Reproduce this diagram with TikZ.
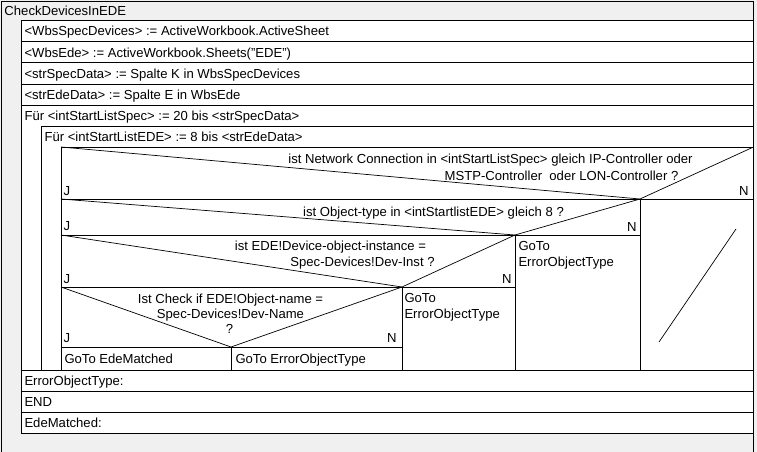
\documentclass[tikz,border=0pt]{standalone}
\usepackage{fontspec}
\setmainfont{Liberation Sans}
\definecolor{bgray}{HTML}{F0F0F0}
\begin{document}
\begin{tikzpicture}[x=1pt,y=-1pt,line width=1pt,
  txt/.style={font=\fontsize{13.1}{15}\selectfont,inner sep=0pt,anchor=base west},
  ctxt/.style={txt,anchor=base},
  rtxt/.style={txt,anchor=base east},
  diag/.style={line width=0.7pt}]
\useasboundingbox (0,0) rectangle (757,452);
\fill[bgray] (0,0) rectangle (757,452);
% outer frame
\draw (1.5,452) -- (1.5,1.5) -- (753.5,1.5) -- (753.5,452);
% inner block
\draw[fill=white] (21,21) rectangle (753.5,433);
\foreach \yy in {42,63,84,105,370,391,412}
  \draw (21,\yy) -- (753.5,\yy);
\draw (41,126) -- (753.5,126);
\draw (41,126) -- (41,370);
\draw (61,147) -- (753.5,147);
\draw (61,147) -- (61,370);
% decision 1
\draw[diag] (61,147) -- (640,199) -- (753.5,147);
\draw (61,199) -- (753.5,199);
\draw (640,199) -- (640,370);
\draw[diag] (736,229) -- (659,342);
% decision 2
\draw[diag] (61,199) -- (515,235) -- (640,199);
\draw (61,235) -- (640,235);
\draw (515,235) -- (515,370);
% decision 3
\draw[diag] (61,235) -- (402,287) -- (515,235);
\draw (61,287) -- (515,287);
\draw (402,287) -- (402,370);
% decision 4
\draw[diag] (61,287) -- (231,347) -- (402,287);
\draw (61,347) -- (402,347);
\draw (231,347) -- (231,370);
% texts
\node[txt] (title) at (4,16) {CheckDevicesInEDE};
\node[txt] (r1) at (24,36) {<WbsSpecDevices> := ActiveWorkbook.ActiveSheet};
\node[txt] (r2) at (24,57) {<WbsEde> := ActiveWorkbook.Sheets("EDE")};
\node[txt] (r3) at (24,78) {<strSpecData> := Spalte K in WbsSpecDevices};
\node[txt] (r4) at (24,99) {<strEdeData> := Spalte E in WbsEde};
\node[txt] (r5) at (24,120) {Für <intStartListSpec> := 20 bis <strSpecData>};
\node[txt] (r6) at (44,141) {Für <intStartListEDE> := 8 bis <strEdeData>};
\node[ctxt] (d1a) at (490.5,163) {ist Network Connection in <intStartListSpec> gleich IP-Controller oder};
\node[ctxt] (d1b) at (561.5,180) {MSTP-Controller\ \ oder LON-Controller ?};
\node[txt] (d1j) at (63,195) {J};
\node[rtxt] (d1n) at (749,195) {N};
\node[ctxt] (d2a) at (433.5,216) {ist Object-type in <intStartlistEDE> gleich 8 ?};
\node[txt] (d2j) at (63,230) {J};
\node[rtxt] (d2n) at (637,231) {N};
\node[ctxt] (d3a) at (330.5,250) {ist EDE!Device-object-instance =};
\node[ctxt] (d3b) at (362.5,266) {Spec-Devices!Dev-Inst ?};
\node[txt] (d3j) at (63,283) {J};
\node[rtxt] (d3n) at (512,283) {N};
\node[ctxt] (d4a) at (230.5,303) {Ist Check if EDE!Object-name =};
\node[ctxt] (d4b) at (230.5,318) {Spec-Devices!Dev-Name};
\node[ctxt] (d4c) at (229.5,333) {?};
\node[txt] (d4j) at (63,342) {J};
\node[rtxt] (d4n) at (397,342) {N};
\node[txt] (g1) at (64,363) {GoTo EdeMatched};
\node[txt] (g2) at (235,363) {GoTo ErrorObjectType};
\node[txt] (g3a) at (404,302) {GoTo};
\node[txt] (g3b) at (404,318) {ErrorObjectType};
\node[txt] (g4a) at (518,250) {GoTo};
\node[txt] (g4b) at (518,266) {ErrorObjectType};
\node[txt] (e1) at (24,385.5) {ErrorObjectType:};
\node[txt] (e2) at (24,406.5) {END};
\node[txt] (e3) at (24,427.5) {EdeMatched:};
\end{tikzpicture}
\end{document}
